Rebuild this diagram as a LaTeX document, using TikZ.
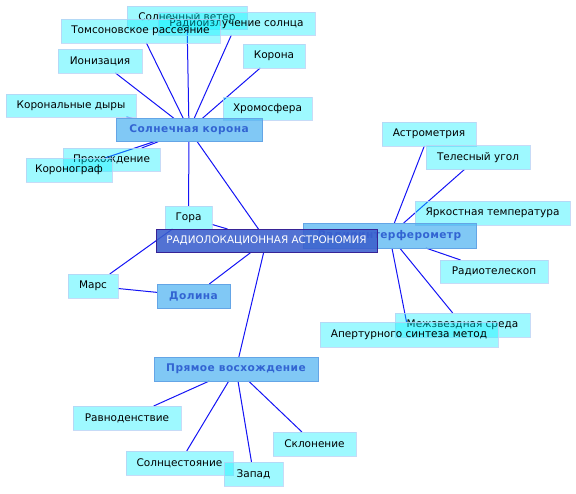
\documentclass[tikz,border=0pt]{standalone}
\usepackage{fontspec}
\setmainfont{DejaVu Sans}
\newfontfamily\catfont[LetterSpace=4]{DejaVu Sans Bold}
\definecolor{leaffill}{RGB}{0,240,255}
\definecolor{leafline}{RGB}{185,210,245}
\definecolor{catfill}{RGB}{60,170,240}
\definecolor{catline}{RGB}{100,165,230}
\definecolor{cattext}{RGB}{50,100,210}
\definecolor{cenfill}{RGB}{58,95,205}
\definecolor{cenline}{RGB}{55,35,150}
\definecolor{edgeblue}{RGB}{20,20,245}
\pgfdeclarelayer{bg}
\pgfsetlayers{bg,main}
\begin{document}
\begin{tikzpicture}[x=1pt,y=-1pt,
  box/.style={inner sep=0pt,outer sep=0pt,rectangle,text opacity=1},
  leaf/.style={box,fill=leaffill,fill opacity=0.38,draw=leafline,draw opacity=0.8,line width=1pt,
    font=\fontsize{10.5}{12}\selectfont,text=black},
  cat/.style={box,fill=catfill,fill opacity=0.65,draw=catline,line width=1pt,
    font=\fontsize{10.6}{12}\catfont,text=cattext},
  center/.style={box,fill=cenfill,fill opacity=0.88,draw=cenline,line width=1pt,
    font=\fontsize{10.4}{12}\selectfont,text=white},
  link/.style={draw=edgeblue,line width=1pt}]
\useasboundingbox (0,0) rectangle (576,493);
% ---- nodes ----
\node[leaf,minimum width=120,minimum height=23] (wind) at (187,17.5) {Солнечный ветер};
\node[leaf,minimum width=157,minimum height=23] (radio) at (236.5,23.5) {Радиоизлучение солнца};
\node[leaf,minimum width=159,minimum height=24] (thom) at (140.5,31) {Томсоновское рассеяние};
\node[leaf,minimum width=84,minimum height=24] (ion) at (100,61) {Ионизация};
\node[leaf,minimum width=62,minimum height=24] (corona) at (274,56) {Корона};
\node[leaf,minimum width=130,minimum height=23] (holes) at (71,105.5) {Корональные дыры};
\node[leaf,minimum width=89,minimum height=23] (chromo) at (267.5,108.5) {Хромосфера};
\node[cat,minimum width=146,minimum height=23.5] (scor) at (189,130) {Солнечная корона};
\node[leaf,minimum width=97,minimum height=23] (pass) at (111.5,159.5) {Прохождение};
\node[leaf,minimum width=86,minimum height=24] (corgraph) at (69,170) {Коронограф};
\node[leaf,minimum width=94,minimum height=24] (astrom) at (429,134) {Астрометрия};
\node[leaf,minimum width=104,minimum height=24] (solid) at (478,157.5) {Телесный угол};
\node[leaf,minimum width=155,minimum height=24] (bright) at (492.5,213) {Яркостная температура};
\node[leaf,minimum width=47,minimum height=23] (gora) at (188.5,217.5) {Гора};
\node[cat,minimum width=173,minimum height=25] (rint) at (389.5,235.5) {Радиоинтерферометр};
\node[center,minimum width=221,minimum height=23] (cen) at (266.5,240.5) {РАДИОЛОКАЦИОННАЯ АСТРОНОМИЯ};
\node[leaf,minimum width=108,minimum height=23] (rtel) at (494,271.5) {Радиотелескоп};
\node[leaf,minimum width=50,minimum height=24] (mars) at (93,286) {Марс};
\node[cat,minimum width=73,minimum height=24] (dol) at (193.5,296) {Долина};
\node[leaf,minimum width=135,minimum height=24] (ism) at (462.5,325) {Межзвездная среда};
\node[leaf,minimum width=178,minimum height=25] (aper) at (409,334.5) {Апертурного синтеза метод};
\node[cat,minimum width=164,minimum height=24] (pv) at (236,369) {Прямое восхождение};
\node[leaf,minimum width=108,minimum height=24] (equi) at (127,418) {Равноденствие};
\node[leaf,minimum width=83,minimum height=24] (decl) at (314.5,444) {Склонение};
\node[leaf,minimum width=107,minimum height=24] (solst) at (179.5,463) {Солнцестояние};
\node[leaf,minimum width=59,minimum height=24] (west) at (253.5,474) {Запад};
% ---- connectors (behind) ----
\begin{pgfonlayer}{bg}
\path[link] (cen) -- (scor);
\path[link] (cen) -- (gora);
\path[link] (cen) -- (dol);
\path[link] (cen) -- (pv);
\foreach \n in {thom,wind,radio,ion,corona,holes,pass,corgraph,gora}
  \path[link] (scor) -- (\n);
\path[link] (gora) -- (mars);
\path[link] (mars) -- (dol);
\foreach \n in {astrom,solid,rtel,ism,aper}
  \path[link] (rint) -- (\n);
\foreach \n in {equi,solst,west,decl}
  \path[link] (pv) -- (\n);
\end{pgfonlayer}
\end{tikzpicture}
\end{document}
